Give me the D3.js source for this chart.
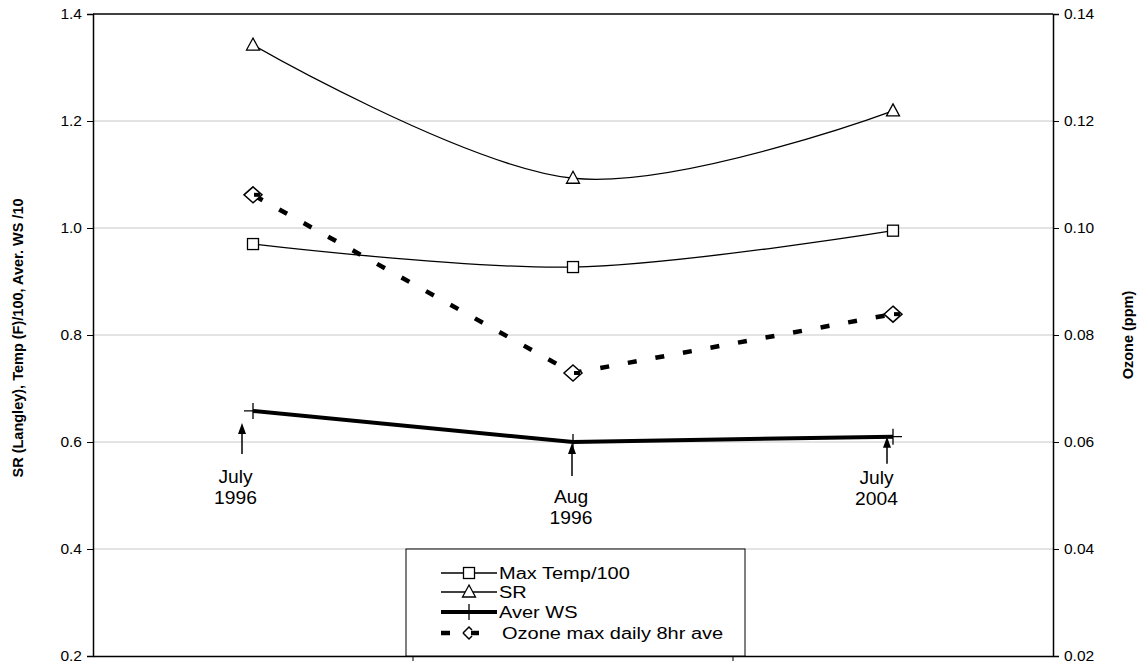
<!DOCTYPE html>
<html><head><meta charset="utf-8">
<script src="https://cdn.jsdelivr.net/npm/d3@7/dist/d3.min.js"></script>
<style>body{margin:0;background:#fff;} svg{display:block;font-family:"Liberation Sans",Arial,sans-serif;}</style>
</head><body><svg id="c" width="1139" height="665"></svg>
<script>
const categories = ["July 1996", "Aug 1996", "July 2004"];
const maxTemp = [0.970, 0.927, 0.995];
const sr = [1.342, 1.093, 1.219];
const averWS = [0.658, 0.600, 0.610];
const ozone = [0.1062, 0.0729, 0.0839];
const leftTicks = [0.2, 0.4, 0.6, 0.8, 1.0, 1.2, 1.4];
const rightTicks = [0.02, 0.04, 0.06, 0.08, 0.10, 0.12, 0.14];
const annotLines = [["July", "1996"], ["Aug", "1996"], ["July", "2004"]];
const legendLabels = ["Max Temp/100", "SR", "Aver WS", "Ozone max daily 8hr ave"];

const FONT = '"Liberation Sans",Arial,sans-serif';
const svg = d3.select("#c");
const L = 93, R = 1053, T = 14, B = 656;
const x = d3.scaleBand().domain(categories).range([L, R]);
const xc = c => x(c) + x.bandwidth() / 2;
const yL = d3.scaleLinear().domain([0.2, 1.4]).range([B, T]);
const yR = d3.scaleLinear().domain([0.02, 0.14]).range([B, T]);

// gridlines
svg.append("g").selectAll("line").data(leftTicks.slice(1, -1)).join("line")
  .attr("x1", L).attr("x2", R).attr("y1", d => yL(d)).attr("y2", d => yL(d))
  .attr("stroke", "#c8c8c8").attr("stroke-width", 1);

// plot frame top
svg.append("line").attr("x1", L).attr("x2", R).attr("y1", T).attr("y2", T).attr("stroke", "#000").attr("stroke-width", 1.5);

// axes
const axL = svg.append("g").attr("transform", `translate(${L},0)`)
  .call(d3.axisLeft(yL).tickValues(leftTicks).tickFormat(d3.format(".1f")).tickSize(6).tickPadding(5));
const axR = svg.append("g").attr("transform", `translate(${R},0)`)
  .call(d3.axisRight(yR).tickValues(rightTicks).tickFormat(d3.format(".2f")).tickSize(6).tickPadding(5));
const axB = svg.append("g").attr("transform", `translate(0,${B})`)
  .call(d3.axisBottom(x).tickValues([]).tickSizeOuter(0));
svg.append("g").selectAll("line").data(categories.slice(1)).join("line")
  .attr("x1", d => x(d)).attr("x2", d => x(d)).attr("y1", B).attr("y2", B + 5).attr("stroke", "#000");
[axL, axR, axB].forEach(a => {
  a.attr("font-size", 15.5).attr("font-family", FONT);
  a.selectAll(".domain").attr("stroke", "#000").attr("stroke-width", 1.5);
  a.selectAll("text").attr("fill", "#000");
});

// axis titles
svg.append("text").attr("transform", `translate(23,338) rotate(-90)`)
  .attr("text-anchor", "middle").attr("font-size", 14.5).attr("font-weight", "bold").text("SR (Langley), Temp (F)/100, Aver. WS /10");
svg.append("text").attr("transform", `translate(1133,335) rotate(-90)`)
  .attr("text-anchor", "middle").attr("font-size", 14.5).attr("font-weight", "bold").text("Ozone (ppm)");

const smooth = d3.line().x((d, i) => xc(categories[i])).y(d => yL(d)).curve(d3.curveCatmullRom.alpha(0));
const straightL = d3.line().x((d, i) => xc(categories[i])).y(d => yL(d));
const straightR = d3.line().x((d, i) => xc(categories[i])).y(d => yR(d));

// lines
svg.append("path").attr("d", smooth(sr)).attr("fill", "none").attr("stroke", "#000").attr("stroke-width", 1.3);
svg.append("path").attr("d", smooth(maxTemp)).attr("fill", "none").attr("stroke", "#000").attr("stroke-width", 1.3);
svg.append("path").attr("d", straightR(ozone)).attr("fill", "none").attr("stroke", "#000").attr("stroke-width", 4.5).attr("stroke-dasharray", "9,19").attr("stroke-dashoffset", -2);
svg.append("path").attr("d", straightL(averWS)).attr("fill", "none").attr("stroke", "#000").attr("stroke-width", 4);

// marker helpers
function square(g, cx, cy) { g.append("rect").attr("x", cx - 5.5).attr("y", cy - 5.5).attr("width", 11).attr("height", 11).attr("fill", "#fff").attr("stroke", "#000").attr("stroke-width", 1.3); }
function tri(g, cx, cy) { g.append("path").attr("d", `M${cx},${cy - 7}L${cx + 6.5},${cy + 5}L${cx - 6.5},${cy + 5}Z`).attr("fill", "#fff").attr("stroke", "#000").attr("stroke-width", 1.3); }
function plus(g, cx, cy) { g.append("path").attr("d", `M${cx - 9},${cy}H${cx + 9}M${cx},${cy - 8}V${cy + 8}`).attr("stroke", "#000").attr("stroke-width", 1.3); }
function diamond(g, cx, cy) { g.append("path").attr("d", `M${cx},${cy - 8}L${cx + 9},${cy}L${cx},${cy + 8}L${cx - 9},${cy}Z`).attr("fill", "#fff").attr("stroke", "#000").attr("stroke-width", 1.5); }

const mk = svg.append("g");
maxTemp.forEach((v, i) => square(mk, xc(categories[i]), yL(v)));
sr.forEach((v, i) => tri(mk, xc(categories[i]), yL(v)));
averWS.forEach((v, i) => plus(mk, xc(categories[i]), yL(v)));
ozone.forEach((v, i) => {
  const cx = xc(categories[i]), cy = yR(v);
  diamond(mk, cx, cy);
  mk.append("line").attr("x1", cx + 1).attr("x2", cx + 7).attr("y1", cy).attr("y2", cy).attr("stroke", "#000").attr("stroke-width", 4);
});

// annotations: arrows + labels (offsets relative to data points)
const annDx = [-11, -1, -6];
const annTipDy = [12, 1, 0];
const annLen = [31, 33, 27];
const annTextDx = [-17.5, -2, -16.5];
const annTextDy = [29, 27, 20];
const ann = svg.append("g");
categories.forEach((c, i) => {
  const ax = xc(c) + annDx[i];
  const tip = yL(averWS[i]) + annTipDy[i];
  const tail = tip + annLen[i];
  ann.append("line").attr("x1", ax).attr("x2", ax).attr("y1", tip + 8).attr("y2", tail).attr("stroke", "#000").attr("stroke-width", 1.5);
  ann.append("path").attr("d", `M${ax},${tip}L${ax + 4},${tip + 11}L${ax - 4},${tip + 11}Z`).attr("fill", "#000");
  const tx = xc(c) + annTextDx[i];
  annotLines[i].forEach((s, j) => {
    ann.append("text").attr("transform", `translate(${tx},${tail + annTextDy[i] + j * 21}) scale(1.1,1)`)
      .attr("text-anchor", "middle").attr("font-size", 17.5).text(s);
  });
});

// legend
const lg = svg.append("g");
lg.append("rect").attr("x", 406).attr("y", 549).attr("width", 339).attr("height", 107).attr("fill", "#fff").attr("stroke", "#000").attr("stroke-width", 1);
const ly = [573, 592, 612, 633];
const lx1 = 441, lx2 = 497, lmx = 469;
legendLabels.forEach((lab, i) => {
  const yy = ly[i];
  if (i === 0) { lg.append("line").attr("x1", lx1).attr("x2", lx2).attr("y1", yy).attr("y2", yy).attr("stroke", "#000").attr("stroke-width", 1.3); square(lg, lmx, yy); }
  if (i === 1) { lg.append("line").attr("x1", lx1).attr("x2", lx2).attr("y1", yy).attr("y2", yy).attr("stroke", "#000").attr("stroke-width", 1.3); tri(lg, lmx, yy); }
  if (i === 2) { lg.append("line").attr("x1", lx1).attr("x2", lx2).attr("y1", yy).attr("y2", yy).attr("stroke", "#000").attr("stroke-width", 4); lg.append("line").attr("x1", lmx).attr("x2", lmx).attr("y1", yy - 8).attr("y2", yy + 8).attr("stroke", "#000").attr("stroke-width", 1.3); }
  if (i === 3) {
    lg.append("line").attr("x1", lx1).attr("x2", lx1 + 9).attr("y1", yy).attr("y2", yy).attr("stroke", "#000").attr("stroke-width", 4.5);
    lg.append("path").attr("d", `M${lmx - 6},${yy}L${lmx},${yy - 6}L${lmx + 3},${yy - 3}`).attr("fill", "none").attr("stroke", "#000").attr("stroke-width", 1.5);
    lg.append("path").attr("d", `M${lmx - 6},${yy}L${lmx},${yy + 6}L${lmx + 3},${yy + 3}`).attr("fill", "none").attr("stroke", "#000").attr("stroke-width", 1.5);
    lg.append("line").attr("x1", lmx + 2).attr("x2", lmx + 10).attr("y1", yy).attr("y2", yy).attr("stroke", "#000").attr("stroke-width", 4.5);
  }
  lg.append("text").attr("transform", `translate(${i === 3 ? 502 : 499},${yy + 6}) scale(1.25,1)`)
    .attr("font-size", 16).text(lab);
});
</script></body></html>
